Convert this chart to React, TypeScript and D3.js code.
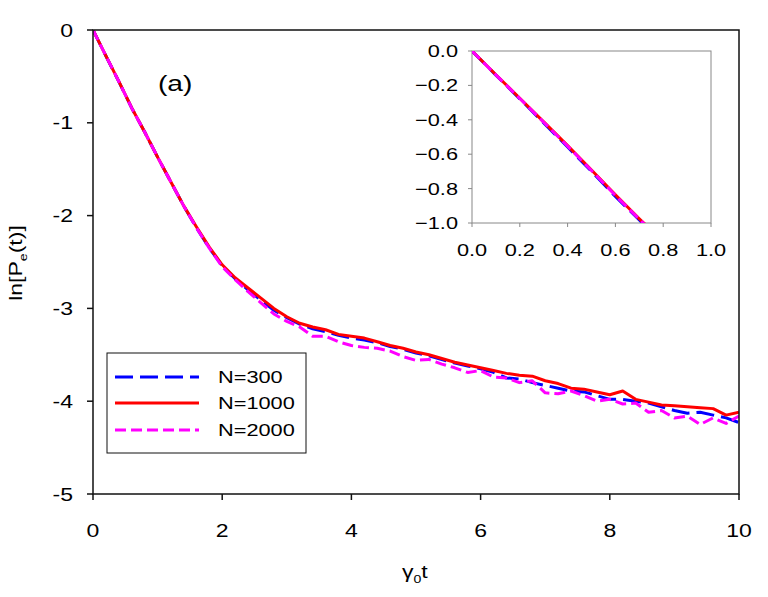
import * as d3 from "d3";

// time grid shared by the three main-plot series
const T = [
  0, 0.2, 0.4, 0.6, 0.8, 1.0, 1.2, 1.4, 1.6, 1.8, 2.0, 2.2, 2.4, 2.6, 2.8, 3.0, 3.2, 3.4, 3.6, 3.8, 4.0,
  4.2, 4.4, 4.6, 4.8, 5.0, 5.2, 5.4, 5.6, 5.8, 6.0, 6.2, 6.4, 6.6, 6.8, 7.0, 7.2, 7.4, 7.6, 7.8, 8.0,
  8.2, 8.4, 8.6, 8.8, 9.0, 9.2, 9.4, 9.6, 9.8, 10.0,
];

const N300 = [
  0, -0.28, -0.556, -0.842, -1.1, -1.37, -1.63, -1.89, -2.13, -2.35, -2.54, -2.68, -2.8, -2.91, -3.02,
  -3.1, -3.17, -3.22, -3.25, -3.29, -3.32, -3.34, -3.37, -3.41, -3.44, -3.48, -3.51, -3.55, -3.59,
  -3.62, -3.65, -3.69, -3.75, -3.76, -3.8, -3.83, -3.86, -3.89, -3.9, -3.94, -3.98, -3.98, -4.0, -4.02,
  -4.06, -4.1, -4.13, -4.12, -4.15, -4.18, -4.23,
];

const N1000 = [
  0, -0.278, -0.553, -0.84, -1.1, -1.37, -1.63, -1.89, -2.12, -2.34, -2.53, -2.67, -2.78, -2.89, -3.0,
  -3.09, -3.16, -3.2, -3.23, -3.28, -3.3, -3.32, -3.36, -3.4, -3.43, -3.47, -3.5, -3.54, -3.58, -3.61,
  -3.64, -3.67, -3.7, -3.72, -3.73, -3.78, -3.81, -3.86, -3.87, -3.9, -3.93, -3.89, -3.98, -4.01, -4.04,
  -4.05, -4.06, -4.07, -4.08, -4.15, -4.12,
];

const N2000 = [
  0, -0.279, -0.555, -0.842, -1.1, -1.37, -1.63, -1.89, -2.13, -2.35, -2.55, -2.69, -2.82, -2.94, -3.06,
  -3.14, -3.2, -3.3, -3.3, -3.36, -3.4, -3.42, -3.43, -3.46, -3.52, -3.56, -3.55, -3.6, -3.64, -3.69,
  -3.67, -3.74, -3.75, -3.8, -3.78, -3.91, -3.92, -3.89, -3.94, -4.0, -3.98, -4.03, -4.02, -4.12, -4.1,
  -4.18, -4.16, -4.25, -4.18, -4.24, -4.16,
];

// inset: early-time zoom
const T_IN = [0, 0.1, 0.2, 0.3, 0.4, 0.5, 0.6, 0.7, 0.8];
const IN300 = [0, -0.14, -0.278, -0.418, -0.558, -0.7, -0.846, -0.982, -1.12];
const IN1000 = [0, -0.138, -0.275, -0.412, -0.55, -0.692, -0.836, -0.975, -1.11];
const IN2000 = [0, -0.139, -0.276, -0.414, -0.553, -0.695, -0.84, -0.978, -1.115];

const X_TICKS = [0, 2, 4, 6, 8, 10];
const Y_TICKS = [0, -1, -2, -3, -4, -5];
const IN_X_TICKS = [0, 0.2, 0.4, 0.6, 0.8, 1.0];
const IN_Y_TICKS = [0, -0.2, -0.4, -0.6, -0.8, -1.0];

const SERIES = [
  { label: "N=300", main: N300, inset: IN300, color: "#0000ff", dash: "18,7" },
  { label: "N=1000", main: N1000, inset: IN1000, color: "#ff0000", dash: "" },
  { label: "N=2000", main: N2000, inset: IN2000, color: "#ff00ff", dash: "11,5" },
];

const FONT = "'Liberation Sans', Arial, sans-serif";
// the source figure's lettering is horizontally stretched
const STRETCH = 1.28;

function Label({
  x,
  y,
  size,
  anchor = "start",
  rotate = 0,
  children,
}: {
  x: number;
  y: number;
  size: number;
  anchor?: "start" | "middle" | "end";
  rotate?: number;
  children: React.ReactNode;
}) {
  return (
    <text
      transform={`translate(${x},${y}) rotate(${rotate}) scale(${STRETCH},1)`}
      textAnchor={anchor}
      fontSize={size}
    >
      {children}
    </text>
  );
}

export default function App() {
  const x = d3.scaleLinear().domain([0, 10]).range([93, 739]);
  const y = d3.scaleLinear().domain([-5, 0]).range([494, 30]);
  const xi = d3.scaleLinear().domain([0, 1]).range([472, 711]);
  const yi = d3.scaleLinear().domain([-1, 0]).range([223, 51]);

  const mainLine = (vals: number[]) =>
    d3
      .line<number>()
      .x((_, i) => x(T[i]))
      .y((d) => y(d))(vals) ?? "";
  const insetLine = (vals: number[]) =>
    d3
      .line<number>()
      .x((_, i) => xi(T_IN[i]))
      .y((d) => yi(d))(vals) ?? "";

  const legendRows = [377, 403, 430];

  return (
    <svg
      width={768}
      height={597}
      style={{ position: "absolute", left: 0, top: 0, background: "#fff" }}
      fontFamily={FONT}
    >
      <defs>
        <clipPath id="mainClip">
          <rect x={93} y={30} width={646} height={464} />
        </clipPath>
        <clipPath id="insetClip">
          <rect x={472} y={51} width={239} height={172} />
        </clipPath>
      </defs>

      {/* main curves */}
      <g clipPath="url(#mainClip)" fill="none" strokeWidth={3}>
        {SERIES.map((s) => (
          <path
            key={s.label}
            d={mainLine(s.main)}
            stroke={s.color}
            strokeDasharray={s.dash || undefined}
            strokeLinejoin="round"
          />
        ))}
      </g>

      {/* main frame */}
      <rect x={93} y={30} width={646} height={464} fill="none" stroke="#111" strokeWidth={1.5} />
      {X_TICKS.map((t) => (
        <g key={`x${t}`}>
          <line x1={x(t)} x2={x(t)} y1={494} y2={500} stroke="#111" strokeWidth={1.5} />
          <Label x={x(t)} y={537} size={18} anchor="middle">
            {t}
          </Label>
        </g>
      ))}
      {Y_TICKS.map((t) => (
        <g key={`y${t}`}>
          <line x1={87} x2={93} y1={y(t)} y2={y(t)} stroke="#111" strokeWidth={1.5} />
          <Label x={73} y={y(t) + 6.5} size={18} anchor="end">
            {t}
          </Label>
        </g>
      ))}

      {/* axis titles */}
      <Label x={402} y={578} size={18}>
        γ<tspan fontSize={11} dy={5}>0</tspan>
        <tspan dy={-5}>t</tspan>
      </Label>
      <Label x={22} y={263} size={18} anchor="middle" rotate={-90}>
        ln[P<tspan fontSize={11} dy={5}>e</tspan>
        <tspan dy={-5}>(t)]</tspan>
      </Label>
      <Label x={158} y={91} size={22}>
        (a)
      </Label>

      {/* inset */}
      <rect x={472} y={51} width={239} height={172} fill="#fff" stroke="#888" strokeWidth={1} />
      <g clipPath="url(#insetClip)" fill="none" strokeWidth={3}>
        {SERIES.map((s) => (
          <path
            key={s.label}
            d={insetLine(s.inset)}
            stroke={s.color}
            strokeDasharray={s.dash || undefined}
          />
        ))}
      </g>
      {IN_X_TICKS.map((t) => (
        <g key={`ix${t}`}>
          <line x1={xi(t)} x2={xi(t)} y1={223} y2={227} stroke="#888" />
          <Label x={xi(t)} y={256} size={17} anchor="middle">
            {d3.format(".1f")(t)}
          </Label>
        </g>
      ))}
      {IN_Y_TICKS.map((t) => (
        <g key={`iy${t}`}>
          <line x1={468} x2={472} y1={yi(t)} y2={yi(t)} stroke="#888" />
          <Label x={458} y={yi(t) + 6} size={17} anchor="end">
            {d3.format(".1f")(t)}
          </Label>
        </g>
      ))}

      {/* legend */}
      <rect x={107} y={353} width={199} height={100} fill="#fff" stroke="#111" strokeWidth={1} />
      {SERIES.map((s, i) => (
        <g key={s.label}>
          <line
            x1={115}
            x2={199}
            y1={legendRows[i]}
            y2={legendRows[i]}
            stroke={s.color}
            strokeWidth={3}
            strokeDasharray={s.dash || undefined}
          />
          <Label x={218} y={legendRows[i] + 6} size={17}>
            {s.label}
          </Label>
        </g>
      ))}
    </svg>
  );
}
